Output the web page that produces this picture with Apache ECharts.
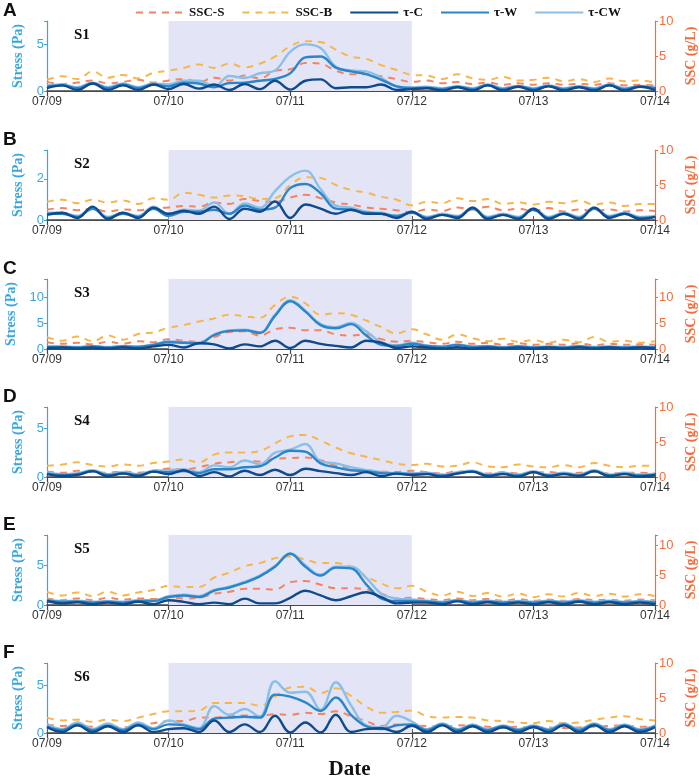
<!DOCTYPE html>
<html lang="en">
<head>
    <meta charset="UTF-8">
    <title>Stress and SSC</title>
    <style>
        body { margin: 0; background: #fff; }
        #main { width: 699px; height: 784px; }
    </style>
</head>
<body>
<div id="main"></div>
<script src="https://cdn.jsdelivr.net/npm/echarts@6/dist/echarts.min.js"></script>
<script>
    // tick labels and time steps (3 h)
    var days = ['07/09', '07/10', '07/11', '07/12', '07/13', '07/14'];
    var stepHours = ['00', '03', '06', '09', '12', '15', '18', '21'];
    var stations = ['S1', 'S2', 'S3', 'S4', 'S5', 'S6'];
    var panelLetters = ['A', 'B', 'C', 'D', 'E', 'F'];
    var seriesNames = ['SSC-S', 'SSC-B', 'τ-C', 'τ-W', 'τ-CW'];

    // axis ranges
    var stressMax = [7.5, 3.4, 13.5, 7.2, 8.8, 7.3];
    var stressStep = [5, 2, 5, 5, 5, 5];
    var sscMax = [10, 10, 13.5, 10, 11.7, 10];
    var sscStep = [5, 5, 5, 5, 5, 5];

    // S1
    var s1TauC = [0.3,0.6,0.1,0.8,0.1,0.6,0.1,0.7, 0.2,0.75,0.25,0.7,0.1,0.75,0.2,1.1, 0.15,1.1,1.25,0.3,0.4,0.4,0.7,0.1, 0.2,0.3,0.05,0.4,0.05,0.6,0.05,0.45, 0.05,0.5,0.05,0.4,0.05,0.6,0.05,0.45, 0.1];
    var s1TauW = [0.5,0.6,0.3,0.8,0.3,0.7,0.3,0.7, 0.5,0.9,0.8,0.4,0.85,0.9,1.1,1.3, 1.9,3.6,3.7,2.5,2.1,1.8,1.2,0.5, 0.3,0.35,0.2,0.45,0.2,0.65,0.2,0.5, 0.2,0.55,0.2,0.45,0.2,0.65,0.2,0.5, 0.3];
    var s1TauCW = [0.6,0.7,0.4,0.9,0.4,0.8,0.4,0.8, 0.7,1.1,1.1,0.5,1.6,1.4,1.9,2.2, 4.2,5.0,4.6,2.6,2.2,2.1,1.4,0.5, 0.4,0.45,0.3,0.5,0.3,0.7,0.3,0.55, 0.3,0.6,0.3,0.5,0.3,0.7,0.3,0.55, 0.4];
    var s1SscS = [1.3,1.0,1.2,1.5,1.1,1.3,1.6,1.2, 1.5,1.7,1.3,1.9,1.5,2.2,1.8,2.9, 3.1,4.0,3.9,2.9,2.4,2.4,2.1,1.7, 1.3,1.5,1.1,1.3,1.0,1.2,0.9,1.1, 0.9,1.1,0.9,1.0,0.9,1.1,0.8,0.9, 0.8];
    var s1SscB = [1.6,2.1,1.7,2.8,1.9,2.3,1.8,2.6, 2.9,3.3,3.8,3.3,3.9,3.4,3.9,4.9, 6.4,7.1,7.0,5.9,4.9,4.6,3.7,3.0, 2.3,2.2,1.7,2.4,1.8,1.6,2.0,1.5, 1.6,1.9,1.4,1.7,1.3,1.8,1.4,1.5, 1.2];

    // S2
    var s2TauC = [0.25,0.35,0.1,0.65,0.05,0.35,0.1,0.6, 0.3,0.45,0.3,0.65,0.05,0.55,0.4,0.9, 0.1,0.75,0.55,0.3,0.5,0.3,0.3,0.1, 0.4,0.05,0.25,0.1,0.6,0.05,0.25,0.05, 0.55,0.05,0.3,0.05,0.6,0.1,0.3,0.05, 0.15];
    var s2TauW = [0.3,0.3,0.15,0.55,0.1,0.3,0.15,0.55, 0.2,0.4,0.4,0.5,0.3,0.7,0.5,0.6, 1.55,1.75,1.3,0.55,0.5,0.35,0.3,0.2, 0.35,0.1,0.25,0.15,0.55,0.1,0.25,0.1, 0.5,0.1,0.3,0.1,0.55,0.15,0.3,0.1, 0.15];
    var s2TauCW = [0.35,0.35,0.2,0.6,0.15,0.35,0.2,0.65, 0.3,0.5,0.45,0.85,0.3,0.8,0.6,1.4, 2.1,2.4,1.5,0.7,0.6,0.4,0.35,0.2, 0.4,0.15,0.3,0.2,0.6,0.15,0.3,0.15, 0.55,0.15,0.35,0.15,0.6,0.2,0.35,0.15, 0.2];
    var s2SscS = [1.5,1.7,1.4,1.6,1.2,1.5,1.4,1.7, 1.8,2.0,1.9,2.5,2.3,3.0,2.7,2.6, 3.2,3.6,3.1,2.5,2.2,1.8,1.6,1.4, 1.1,1.5,1.3,1.8,1.5,1.9,1.4,1.6, 1.3,1.7,1.2,1.5,1.3,1.5,1.2,1.4, 1.3];
    var s2SscB = [2.6,2.9,2.4,2.9,2.5,2.8,2.3,3.1, 2.9,3.9,3.6,3.2,3.5,3.4,3.0,3.1, 5.0,6.1,6.0,5.0,4.3,3.9,3.3,2.9, 2.1,2.6,2.4,3.1,2.7,3.0,2.3,2.5, 2.2,2.6,2.4,2.8,2.2,2.5,2.0,2.3, 2.3];

    // S3
    var s3TauC = [0.2,0.3,0.1,0.3,0.1,0.35,0.1,0.5, 0.8,0.3,1.1,0.9,0.1,0.9,0.5,1.6, 0.2,1.6,1.0,0.6,0.3,1.6,1.2,0.2, 0.5,0.3,0.1,0.35,0.1,0.3,0.1,0.3, 0.1,0.3,0.1,0.35,0.1,0.3,0.1,0.3, 0.15];
    var s3TauW = [0.4,0.4,0.3,0.5,0.3,0.5,0.4,0.8, 1.3,1.2,1.1,2.7,3.5,3.6,3.1,6.4, 9.2,7.2,4.6,4.0,4.8,2.6,0.8,0.6, 1.0,0.6,0.4,0.8,0.4,0.5,0.3,0.5, 0.3,0.4,0.3,0.5,0.3,0.4,0.3,0.4, 0.3];
    var s3TauCW = [0.5,0.5,0.4,0.6,0.4,0.6,0.5,0.9, 1.5,1.3,1.2,2.8,3.6,3.7,3.2,6.6, 9.4,7.4,4.8,4.2,5.0,3.4,1.3,0.7, 1.2,0.7,0.5,0.9,0.5,0.6,0.4,0.6, 0.4,0.5,0.4,0.6,0.4,0.5,0.4,0.5, 0.4];
    var s3SscS = [1.3,1.0,1.2,0.9,1.4,1.0,1.5,1.3, 1.9,1.6,1.4,2.3,3.3,3.4,2.6,3.8, 4.1,3.6,3.6,2.8,2.6,2.8,1.9,1.4, 1.6,1.3,1.0,1.4,1.0,1.2,0.8,1.1, 0.8,1.0,0.8,1.1,0.7,1.0,0.8,0.9, 0.8];
    var s3SscB = [2.3,1.6,2.4,1.5,2.6,1.8,2.9,3.2, 4.1,4.6,5.3,5.9,6.6,6.3,6.0,8.5, 10.1,8.8,6.6,6.9,6.6,5.5,4.2,3.0, 3.8,2.8,1.8,2.8,2.1,1.5,2.0,1.4, 1.7,1.2,1.8,1.3,2.3,1.4,1.6,1.2, 1.5];

    // S4
    var s4TauC = [0.3,0.1,0.2,0.6,0.1,0.35,0.1,0.55, 0.3,0.7,0.1,0.5,0.05,0.65,0.2,0.75, 0.2,0.85,0.6,0.4,0.2,0.5,0.1,0.35, 0.2,0.3,0.05,0.35,0.55,0.1,0.3,0.05, 0.5,0.1,0.3,0.1,0.6,0.1,0.3,0.05, 0.2];
    var s4TauW = [0.35,0.2,0.3,0.6,0.2,0.4,0.2,0.55, 0.5,0.6,0.4,0.8,0.8,1.0,1.1,2.0, 2.7,2.6,1.4,1.0,0.7,0.6,0.4,0.35, 0.3,0.35,0.15,0.4,0.55,0.15,0.35,0.15, 0.5,0.15,0.35,0.15,0.6,0.15,0.35,0.15, 0.25];
    var s4TauCW = [0.45,0.3,0.4,0.7,0.3,0.5,0.3,0.65, 0.7,0.8,0.5,1.2,1.0,1.7,1.3,2.5, 2.8,3.4,1.6,1.4,1.0,0.7,0.5,0.4, 0.4,0.45,0.25,0.5,0.65,0.25,0.45,0.25, 0.6,0.25,0.45,0.25,0.7,0.25,0.45,0.25, 0.35];
    var s4SscS = [0.8,0.6,0.9,0.7,0.6,0.8,0.6,0.9, 1.2,1.1,1.4,1.9,2.1,2.3,2.2,2.6, 2.7,2.8,2.4,1.6,1.3,1.0,0.8,0.7, 0.9,0.7,0.5,0.8,0.7,0.5,0.7,0.5, 0.6,0.7,0.5,0.6,0.7,0.5,0.6,0.6, 0.5];
    var s4SscB = [1.6,1.8,2.1,1.7,1.5,1.8,1.6,2.0, 2.2,2.5,2.1,3.2,3.5,3.5,3.7,4.8, 5.8,6.0,5.2,4.2,3.4,2.9,2.4,1.9, 1.7,1.9,1.5,1.6,2.1,1.5,1.4,1.8, 1.5,1.4,1.7,1.4,2.0,1.6,1.4,1.6, 1.6];

    // S5
    var s5TauC = [0.5,0.2,0.35,0.1,0.3,0.1,0.4,0.1, 0.6,0.4,0.1,0.3,0.1,0.8,0.2,0.2, 0.9,1.8,1.2,0.6,1.1,1.6,1.0,0.2, 0.3,0.3,0.1,0.45,0.1,0.35,0.1,0.3, 0.1,0.35,0.1,0.4,0.1,0.35,0.1,0.3, 0.1];
    var s5TauW = [0.6,0.4,0.45,0.3,0.4,0.3,0.5,0.5, 1.0,1.2,1.0,1.8,2.2,2.8,3.6,4.8, 6.45,4.8,3.7,4.7,4.6,2.6,0.8,0.5, 0.5,0.45,0.3,0.55,0.3,0.45,0.3,0.4, 0.3,0.45,0.3,0.5,0.3,0.45,0.3,0.4, 0.3];
    var s5TauCW = [0.7,0.5,0.55,0.4,0.5,0.4,0.6,0.6, 1.1,1.3,1.1,1.9,2.3,2.9,3.7,4.9, 6.5,5.0,3.8,4.8,4.8,3.4,1.4,0.8, 0.7,0.55,0.4,0.65,0.4,0.55,0.4,0.5, 0.4,0.55,0.4,0.6,0.4,0.55,0.4,0.5, 0.4];
    var s5SscS = [1.1,0.8,1.1,0.8,1.2,0.9,1.1,1.0, 1.3,1.1,1.2,1.9,2.2,2.7,2.7,2.6, 3.8,4.0,3.4,2.8,2.8,2.6,1.9,1.1, 1.2,1.0,0.8,1.1,0.8,1.0,0.7,1.0, 0.7,0.9,0.7,1.0,0.8,0.9,0.7,0.9, 0.8];
    var s5SscB = [2.2,1.6,2.1,1.5,2.2,1.6,2.1,2.5, 3.2,3.0,3.0,4.6,5.4,6.5,7.0,7.8, 8.1,7.6,7.0,7.0,6.4,4.8,3.6,2.8, 3.2,2.2,1.6,2.2,1.5,2.0,1.4,1.9, 1.3,1.8,1.4,2.0,1.5,1.9,1.4,1.8, 1.5];

    // S6
    var s6TauC = [0.6,0.1,0.8,0.1,0.7,0.1,0.8,0.1, 0.4,0.5,0.1,1.3,0.1,0.9,0.1,1.8, 0.05,1.1,0.05,1.9,0.1,0.4,0.5,0.1, 0.75,0.1,0.8,0.1,0.7,0.1,0.6,0.1, 0.6,0.1,0.8,0.1,0.8,0.1,0.7,0.1, 0.6];
    var s6TauW = [0.7,0.3,0.9,0.3,0.8,0.3,0.9,0.4, 0.9,0.8,0.4,1.5,1.6,1.7,1.6,4.0, 3.8,3.2,2.3,3.7,1.9,0.7,0.4,0.8, 0.9,0.3,0.9,0.3,0.8,0.3,0.7,0.3, 0.7,0.3,0.9,0.3,0.9,0.3,0.8,0.3, 0.7];
    var s6TauCW = [0.9,0.4,1.1,0.4,1.0,0.4,1.1,0.5, 1.3,0.9,0.5,2.8,1.9,2.5,1.7,5.4, 4.2,4.3,2.4,5.3,2.9,0.8,0.6,1.8, 1.2,0.4,1.0,0.4,0.9,0.4,0.8,0.4, 0.8,0.4,1.0,0.4,1.0,0.4,0.9,0.4, 0.8];
    var s6SscS = [1.2,1.0,1.1,0.9,1.0,0.8,1.1,1.4, 1.7,1.7,2.2,2.2,2.4,2.5,2.4,2.7, 2.6,2.9,2.7,3.1,2.4,1.7,1.0,1.2, 1.1,1.0,0.9,1.1,1.0,0.9,0.8,0.9, 0.7,0.8,0.7,0.8,0.9,1.0,1.1,0.9, 0.9];
    var s6SscB = [2.2,1.8,1.9,1.6,1.9,1.7,2.2,2.7, 3.1,3.1,3.2,4.3,4.3,4.3,3.9,5.2, 6.5,6.6,5.7,6.4,5.3,3.8,2.9,3.0, 3.2,2.4,2.2,2.3,2.2,1.8,1.7,1.5, 1.4,1.7,1.4,1.5,1.9,2.2,2.4,2.0, 1.8];

    var panels = [
        [s1SscS, s1SscB, s1TauC, s1TauW, s1TauCW],
        [s2SscS, s2SscB, s2TauC, s2TauW, s2TauCW],
        [s3SscS, s3SscB, s3TauC, s3TauW, s3TauCW],
        [s4SscS, s4SscB, s4TauC, s4TauW, s4TauCW],
        [s5SscS, s5SscB, s5TauC, s5TauW, s5TauCW],
        [s6SscS, s6SscB, s6TauC, s6TauW, s6TauCW]
    ];

    var times = [];
    days.slice(0, 5).forEach(function (d) {
        stepHours.forEach(function (h) {
            times.push(d + ' ' + h + ':00');
        });
    });
    times.push(days[5] + ' 00:00');
    var stormStart = '07/10 00:00', stormEnd = '07/12 00:00';

    var colors = ['#f4845f', '#f7b64c', '#0e4a8c', '#2a86c8', '#8cbfe8'];
    var stressColor = '#3aa6dd', sscColor = '#f26d3d';
    var serif = 'Liberation Serif', sans = 'Liberation Sans';

    var tops = [21, 150, 279, 407, 535, 663];
    var gridH = 70;

    var grids = [], xAxes = [], yAxes = [], series = [], graphics = [];

    function tickFormatter(step) {
        return function (v) {
            return Math.abs(v / step - Math.round(v / step)) < 1e-6 ? String(v) : '';
        };
    }

    tops.forEach(function (top, k) {
        grids.push({left: 47, right: 44, top: top, height: gridH,
            containLabel: false, outerBoundsMode: 'none'});

        xAxes.push({
            type: 'category', gridIndex: k, data: times, boundaryGap: false,
            axisLine: {lineStyle: {color: '#555', width: 1.2}},
            axisTick: {inside: true, interval: 7, length: 4, lineStyle: {color: '#555'}},
            axisLabel: {
                interval: 7, color: '#333', fontFamily: sans, fontSize: 12, margin: 5,
                formatter: function (v) { return v.split(' ')[0]; }
            },
            splitLine: {show: false}
        });
        xAxes.push({
            type: 'category', gridIndex: k, data: times, boundaryGap: false, position: 'top',
            axisLine: {lineStyle: {color: '#444', width: 1.5}},
            axisTick: {inside: true, interval: 7, length: 5, lineStyle: {color: '#444', width: 1.2}},
            axisLabel: {show: false},
            splitLine: {show: false}
        });

        yAxes.push({
            type: 'value', gridIndex: k, position: 'left',
            min: 0, max: stressMax[k], interval: stressStep[k],
            name: 'Stress (Pa)', nameLocation: 'middle', nameGap: 19,
            nameTextStyle: {color: stressColor, fontFamily: serif, fontWeight: 'bold', fontSize: 14},
            axisLine: {show: true, lineStyle: {color: stressColor, width: 1.2}},
            axisTick: {show: true, length: 3, lineStyle: {color: stressColor}},
            axisLabel: {color: stressColor, fontFamily: sans, fontSize: 13, margin: 3,
                formatter: tickFormatter(stressStep[k])},
            splitLine: {show: false}
        });
        yAxes.push({
            type: 'value', gridIndex: k, position: 'right',
            min: 0, max: sscMax[k], interval: sscStep[k],
            name: 'SSC (g/L)', nameLocation: 'middle', nameGap: 20,
            nameTextStyle: {color: sscColor, fontFamily: serif, fontWeight: 'bold', fontSize: 14},
            axisLine: {show: true, lineStyle: {color: sscColor, width: 1.2}},
            axisTick: {show: true, length: 3, lineStyle: {color: sscColor}},
            axisLabel: {color: sscColor, fontFamily: sans, fontSize: 13, margin: 4,
                formatter: tickFormatter(sscStep[k])},
            splitLine: {show: false}
        });

        panels[k].forEach(function (values, j) {
            var isSsc = j < 2;
            var s = {
                name: seriesNames[j], type: 'line',
                xAxisIndex: 2 * k, yAxisIndex: 2 * k + (isSsc ? 1 : 0),
                data: values, symbol: 'none', smooth: 0.4,
                z: isSsc ? 2 : (7 - j + 2),
                lineStyle: {
                    color: colors[j], width: isSsc ? 2 : 2.4,
                    type: isSsc ? [7, 6] : 'solid'
                },
                itemStyle: {color: colors[j]}
            };
            if (j === 0) {
                s.markArea = {
                    silent: true, z: 1,
                    itemStyle: {color: '#e4e4f7'},
                    data: [[{xAxis: stormStart}, {xAxis: stormEnd}]]
                };
            }
            series.push(s);
        });

        graphics.push({
            type: 'text', left: 3, top: top - 20,
            style: {text: panelLetters[k], font: 'bold 19px "Liberation Sans"', fill: '#111'}
        });
        graphics.push({
            type: 'text', left: 74, top: top + 7,
            style: {text: stations[k], font: 'bold 15px "Liberation Serif"', fill: '#111'}
        });
    });

    graphics.push({
        type: 'text', left: 180, top: tops[0] + 5,
        style: {text: 'Chan-hom', font: 'bold 16px "Liberation Serif"', fill: '#111'}
    });
    graphics.push({
        type: 'text', left: 'center', top: 759,
        style: {text: 'Date', font: 'bold 21px "Liberation Serif"', fill: '#111'}
    });

    var chart = echarts.init(document.getElementById('main'), null, {renderer: 'canvas'});
    chart.setOption({
        animation: false,
        legend: {
            data: seriesNames, top: 1, left: 130,
            itemWidth: 48, itemHeight: 10, itemGap: 17,
            itemStyle: {opacity: 0},
            textStyle: {fontFamily: serif, fontWeight: 'bold', fontSize: 13, color: '#111'}
        },
        grid: grids,
        xAxis: xAxes,
        yAxis: yAxes,
        series: series,
        graphic: graphics
    });
</script>
</body>
</html>
